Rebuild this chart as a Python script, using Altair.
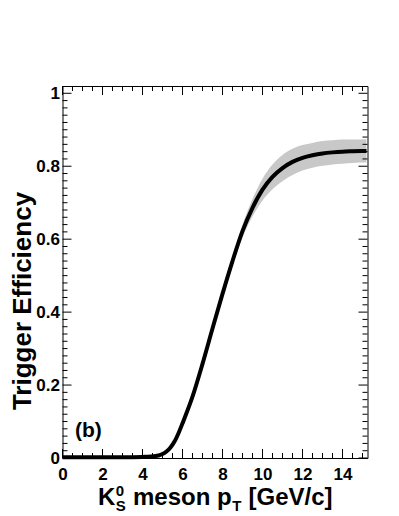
import altair as alt
import pandas as pd

# ---- data ----
pt = [0, 1, 2, 3, 4, 4.4, 4.8, 5.0, 5.2, 5.4, 5.6, 5.8, 6.0, 6.5, 7.0, 7.5,
      8.0, 8.5, 9.0, 9.5, 10.0, 10.5, 11.0, 11.5, 12.0, 12.5, 13.0, 13.5,
      14.0, 14.5, 15.2]
eff = [0.002, 0.002, 0.002, 0.002, 0.003, 0.004, 0.007, 0.011, 0.018, 0.029,
       0.045, 0.068, 0.095, 0.168, 0.258, 0.355, 0.45, 0.54, 0.622, 0.686,
       0.736, 0.771, 0.795, 0.812, 0.823, 0.830, 0.835, 0.838, 0.840, 0.841,
       0.842]
err = [0, 0, 0, 0, 0, 0, 0, 0, 0, 0, 0, 0, 0.001, 0.002, 0.004, 0.006, 0.008,
       0.012, 0.018, 0.024, 0.030, 0.034, 0.036, 0.036, 0.035, 0.034, 0.034,
       0.033, 0.033, 0.032, 0.032]

x_major = [0, 2, 4, 6, 8, 10, 12, 14]
x_minor = [v / 2 for v in range(0, 31) if v % 4 != 0]
y_major = [0, 0.2, 0.4, 0.6, 0.8, 1.0]
y_minor = [round(v * 0.02, 2) for v in range(0, 51) if v % 10 != 0]

X_DOM = [0, 15.25]
Y_DOM = [0, 1.02]
W, H = 305, 372
FONT = "Liberation Sans"

df = pd.DataFrame({"pt": pt, "eff": eff,
                   "lo": [e - d for e, d in zip(eff, err)],
                   "hi": [e + d for e, d in zip(eff, err)]})

xs = alt.Scale(domain=X_DOM, nice=False, zero=False)
ys = alt.Scale(domain=Y_DOM, nice=False, zero=False)

base = alt.Chart(df)

band = base.mark_area(color="#c8c8c8", opacity=1, interpolate="monotone").encode(
    x=alt.X("pt:Q", scale=xs,
            axis=alt.Axis(values=x_major, title=None, ticks=False, domain=False,
                          grid=False, labelFont=FONT, labelFontWeight="bold",
                          labelFontSize=17, labelColor="black", labelPadding=8,
                          labelFlush=False, format="~g")),
    y=alt.Y("lo:Q", scale=ys,
            axis=alt.Axis(values=y_major, title=None, ticks=False, domain=False,
                          grid=False, labelFont=FONT, labelFontWeight="bold",
                          labelFontSize=17, labelColor="black", labelPadding=3,
                          labelFlush=False, format="~g")),
    y2="hi:Q",
)

line = base.mark_line(color="black", strokeWidth=4, interpolate="monotone").encode(
    x=alt.X("pt:Q", scale=xs), y=alt.Y("eff:Q", scale=ys))

def xticks(vals, length, top):
    d = pd.DataFrame({"v": vals})
    if top:
        enc = dict(y=alt.value(0), y2=alt.value(length))
    else:
        enc = dict(y=alt.value(H), y2=alt.value(H - length))
    return alt.Chart(d).mark_rule(color="black", strokeWidth=1).encode(
        x=alt.X("v:Q", scale=xs), **enc)

def yticks(vals, length, right):
    d = pd.DataFrame({"v": vals})
    if right:
        enc = dict(x=alt.value(W), x2=alt.value(W - length))
    else:
        enc = dict(x=alt.value(0), x2=alt.value(length))
    return alt.Chart(d).mark_rule(color="black", strokeWidth=1).encode(
        y=alt.Y("v:Q", scale=ys), **enc)

ticks = [
    xticks(x_major, 9, False), xticks(x_minor, 5, False),
    xticks(x_major, 9, True), xticks(x_minor, 5, True),
    yticks(y_major, 9, False), yticks(y_minor, 5, False),
    yticks(y_major, 9, True), yticks(y_minor, 5, True),
]

one = pd.DataFrame({"a": [0]})

def txt(s, x, y, size, align="left", baseline="alphabetic", angle=0):
    return alt.Chart(one).mark_text(
        text=s, font=FONT, fontWeight="bold", fontSize=size, color="black",
        align=align, baseline=baseline, angle=angle).encode(
        x=alt.value(x), y=alt.value(y))

# x-axis title built from pieces (K_S^0 meson p_T [GeV/c])
WID = {"K": .722, " ": .278, "m": .889, "e": .556, "s": .556, "o": .611,
       "n": .611, "p": .611, "[": .333, "G": .778, "V": .667, "/": .278,
       "c": .556, "]": .333, "S": .667, "T": .611, "0": .556}
def tw(s, size):
    return sum(WID[c] for c in s) * size

F, FS = 24, 15
x0 = 98 - 62.5
base_y = 505 - 86
pieces = []
cx = x0
pieces.append(txt("K", cx, base_y, F)); cx += tw("K", F)
pieces.append(txt("0", cx + 0.5, base_y - 9, FS))
pieces.append(txt("S", cx + 0.5, base_y + 6, FS)); cx += tw("S", FS) + 1
cx += tw(" ", F)
pieces.append(txt("meson p", cx, base_y, F)); cx += tw("meson p", F)
pieces.append(txt("T", cx + 0.5, base_y + 6, FS)); cx += tw("T", FS) + 1
cx += tw(" ", F)
pieces.append(txt("[GeV/c]", cx, base_y, F))

ytitle = txt("Trigger Efficiency", 23 - 62.5, 301 - 86, 26, align="center",
             baseline="middle", angle=270)
label_b = txt("(b)", 75 - 62.5, 431 - 86, 21, baseline="middle")

chart = alt.layer(band, line, *ticks, *pieces, ytitle, label_b).properties(
    width=W, height=H,
    autosize=alt.AutoSizeParams(type="none"),
    padding={"left": 54.5, "top": 78, "right": 20, "bottom": 62},
    background="white",
).configure_view(stroke="black", strokeWidth=1)

chart.save("out.html", embed_options={"renderer": "svg", "actions": False})
